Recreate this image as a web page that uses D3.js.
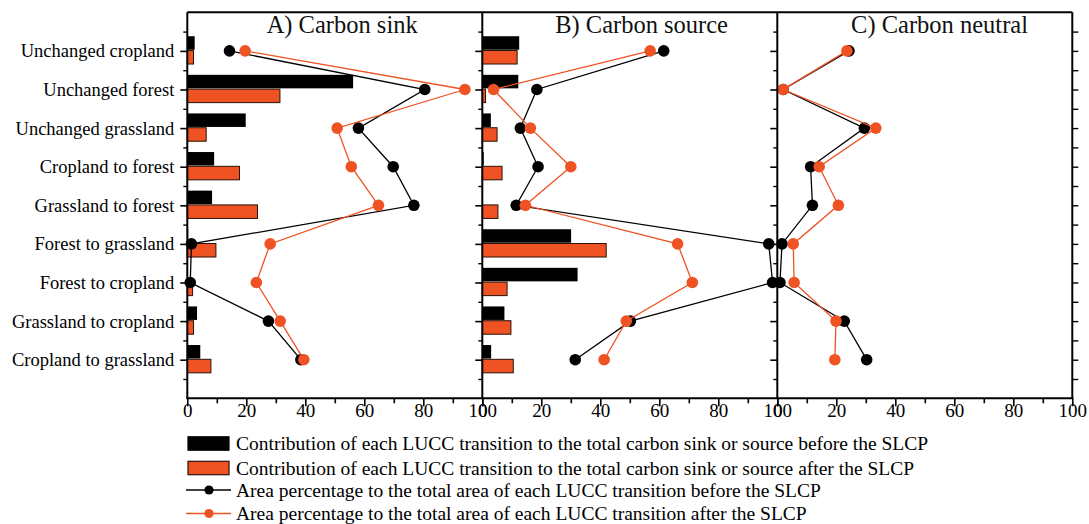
<!DOCTYPE html>
<html><head><meta charset="utf-8">
<script src="https://cdn.jsdelivr.net/npm/d3@7"></script>
<style>
body{margin:0;background:#fff;}
svg{display:block;font-family:"Liberation Serif","Times New Roman",serif;}
</style></head>
<body><svg id="c" width="1089" height="524"></svg>
<script>
const categories = ["Unchanged cropland","Unchanged forest","Unchanged grassland","Cropland to forest","Grassland to forest","Forest to grassland","Forest to cropland","Grassland to cropland","Cropland to grassland"];
const panelTitles = ["A) Carbon sink","B) Carbon source","C) Carbon neutral"];
const xTicks = [0,20,40,60,80,100];

// Panel A: carbon sink
const sinkBarBefore = [2.5,56.2,19.8,9.1,8.4,0.3,0.2,3.3,4.4];
const sinkBarAfter  = [2.1,31.4,6.4,17.7,23.8,9.7,1.8,2.1,8.0];
const sinkAreaBefore = [14.3,80.5,58.0,69.8,76.8,1.4,1.0,27.5,38.5];
const sinkAreaAfter  = [19.6,94.1,50.8,55.6,64.8,28.1,23.4,31.5,39.5];
// Panel B: carbon source
const sourceBarBefore = [12.5,12.2,2.9,0.5,0,30.1,32.3,7.5,3.0];
const sourceBarAfter  = [11.8,1.1,5.0,6.7,5.3,42.0,8.4,9.7,10.5];
const sourceAreaBefore = [61.5,18.5,12.9,18.9,11.5,97.1,98.4,50.2,31.5];
const sourceAreaAfter  = [56.9,3.8,16.3,30.0,14.6,66.2,71.2,48.8,41.3];
// Panel C: carbon neutral
const neutralBarBefore = [0,0,0,0,0,0,0,0,0];
const neutralBarAfter  = [0,0,0,0,0,0,0,0,0];
const neutralAreaBefore = [24.3,2.0,29.5,11.3,11.9,1.6,0.9,22.7,30.3];
const neutralAreaAfter  = [23.6,2.0,33.4,14.2,20.7,5.4,5.7,19.9,19.5];

const legendLabels = [
 "Contribution of each LUCC transition to the total carbon sink or source before the SLCP",
 "Contribution of each LUCC transition to the total carbon sink or source after the SLCP",
 "Area percentage to the total area of each LUCC transition before the SLCP",
 "Area percentage to the total area of each LUCC transition after the SLCP"];

const panels = [
 {title:panelTitles[0], barB:sinkBarBefore, barA:sinkBarAfter, lineB:sinkAreaBefore, lineA:sinkAreaAfter, tx:52.5},
 {title:panelTitles[1], barB:sourceBarBefore, barA:sourceBarAfter, lineB:sourceAreaBefore, lineA:sourceAreaAfter, tx:54},
 {title:panelTitles[2], barB:neutralBarBefore, barA:neutralBarAfter, lineB:neutralAreaBefore, lineA:neutralAreaAfter, tx:55}
];

const ORANGE = "#EF5223";
const svg = d3.select("#c");
const pLeft = 187.3, pw = 295, pTop = 12.3, pBottom = 398.3;
const y = d3.scaleLinear().domain([0,10]).range([pTop,pBottom]);
const barH = y(0.35)-y(0);

panels.forEach((p,k)=>{
  const x0 = pLeft + k*pw;
  const x = d3.scaleLinear().domain([0,100]).range([x0,x0+pw]);
  const g = svg.append("g");
  // bars
  g.selectAll("rect.b").data(p.barB).join("rect").attr("class","b")
    .attr("x",x(0)).attr("y",(d,i)=>y(i+1-0.38)).attr("width",d=>x(d)-x(0)).attr("height",barH)
    .attr("fill","#000");
  g.selectAll("rect.a").data(p.barA).join("rect").attr("class","a")
    .attr("x",x(0)).attr("y",(d,i)=>y(i+1-0.01)).attr("width",d=>x(d)-x(0)).attr("height",barH)
    .attr("fill",ORANGE).attr("stroke",d=>d>0?"#2a1208":"none").attr("stroke-width",1);
  // lines
  const line = d3.line().x(d=>x(d)).y((d,i)=>y(i+1));
  [[p.lineB,"#000"],[p.lineA,ORANGE]].forEach(([arr,col])=>{
    g.append("path").attr("d",line(arr)).attr("fill","none").attr("stroke",col).attr("stroke-width",1.3);
    g.selectAll(null).data(arr).join("circle").attr("cx",d=>x(d)).attr("cy",(d,i)=>y(i+1)).attr("r",5.8).attr("fill",col);
  });
  // bottom axis
  const ax = svg.append("g").attr("transform",`translate(0,${pBottom})`)
    .call(d3.axisBottom(x).tickValues(xTicks).tickSize(8).tickFormat(d3.format("d")));
  ax.select(".domain").remove();
  ax.selectAll("line").attr("stroke","#000").attr("stroke-width",1.6);
  ax.selectAll("text").attr("font-size",19).attr("font-family","Liberation Serif").attr("fill","#000").attr("dy","0.45em").attr("y",10);
  svg.append("g").attr("transform",`translate(0,${pBottom})`)
    .call(d3.axisBottom(x).tickValues([10,30,50,70,90]).tickSize(5).tickFormat(""))
    .call(s=>{s.select(".domain").remove();s.selectAll("line").attr("stroke","#000").attr("stroke-width",1.6);});
  // left axis of panel
  const ay = svg.append("g").attr("transform",`translate(${x0},0)`)
    .call(d3.axisLeft(y).tickValues(d3.range(1,10)).tickSize(7).tickFormat(k===0?(d=>categories[d-1]):""));
  ay.select(".domain").remove();
  ay.selectAll("line").attr("stroke","#000").attr("stroke-width",1.6);
  ay.selectAll("text").attr("font-size",18.5).attr("font-family","Liberation Serif").attr("fill","#000").attr("x",-13);
  svg.append("g").attr("transform",`translate(${x0},0)`)
    .call(d3.axisLeft(y).tickValues(d3.range(0.5,10,1)).tickSize(4).tickFormat(""))
    .call(s=>{s.select(".domain").remove();s.selectAll("line").attr("stroke","#000").attr("stroke-width",1.4);});
  // vertical axis line
  svg.append("line").attr("x1",x0).attr("x2",x0).attr("y1",pTop).attr("y2",pBottom).attr("stroke","#000").attr("stroke-width",2);
  // title
  svg.append("text").attr("x",x(p.tx)).attr("y",33).attr("text-anchor","middle").attr("font-size",24.5).attr("fill","#111").text(p.title);
});
// frame
const pRight = pLeft + 3*pw;
svg.append("line").attr("x1",pLeft).attr("x2",pRight).attr("y1",pTop).attr("y2",pTop).attr("stroke","#000").attr("stroke-width",2);
svg.append("line").attr("x1",pLeft-1).attr("x2",pRight+1).attr("y1",pBottom).attr("y2",pBottom).attr("stroke","#000").attr("stroke-width",2);
svg.append("line").attr("x1",pRight).attr("x2",pRight).attr("y1",pTop).attr("y2",pBottom).attr("stroke","#000").attr("stroke-width",2);
svg.append("g").attr("transform",`translate(${pRight},0)`)
  .call(d3.axisLeft(y).tickValues(d3.range(0.5,10,0.5)).tickSize(-6).tickFormat(""))
  .call(s=>{s.select(".domain").remove();s.selectAll("line").attr("stroke","#000").attr("stroke-width",1.4);});

// legend
const lg = svg.append("g");
const rowY = [443.5,468,490,513.5];
legendLabels.forEach((t,i)=>{
  const cy = rowY[i];
  if(i<2){
    lg.append("rect").attr("x",188).attr("y",cy-6.7).attr("width",41).attr("height",13.4)
      .attr("fill",i===0?"#000":ORANGE).attr("stroke",i===0?"#000":"#2a1208").attr("stroke-width",1.2);
  } else {
    const col = i===2?"#000":ORANGE;
    lg.append("line").attr("x1",186).attr("x2",231).attr("y1",cy).attr("y2",cy).attr("stroke",col).attr("stroke-width",i===2?1.5:1.3);
    lg.append("circle").attr("cx",209).attr("cy",cy).attr("r",4.6).attr("fill",col);
  }
  lg.append("text").attr("x",236).attr("y",cy).attr("dy","0.35em").attr("font-size",19.5).attr("fill","#000").text(t);
});
</script></body></html>
